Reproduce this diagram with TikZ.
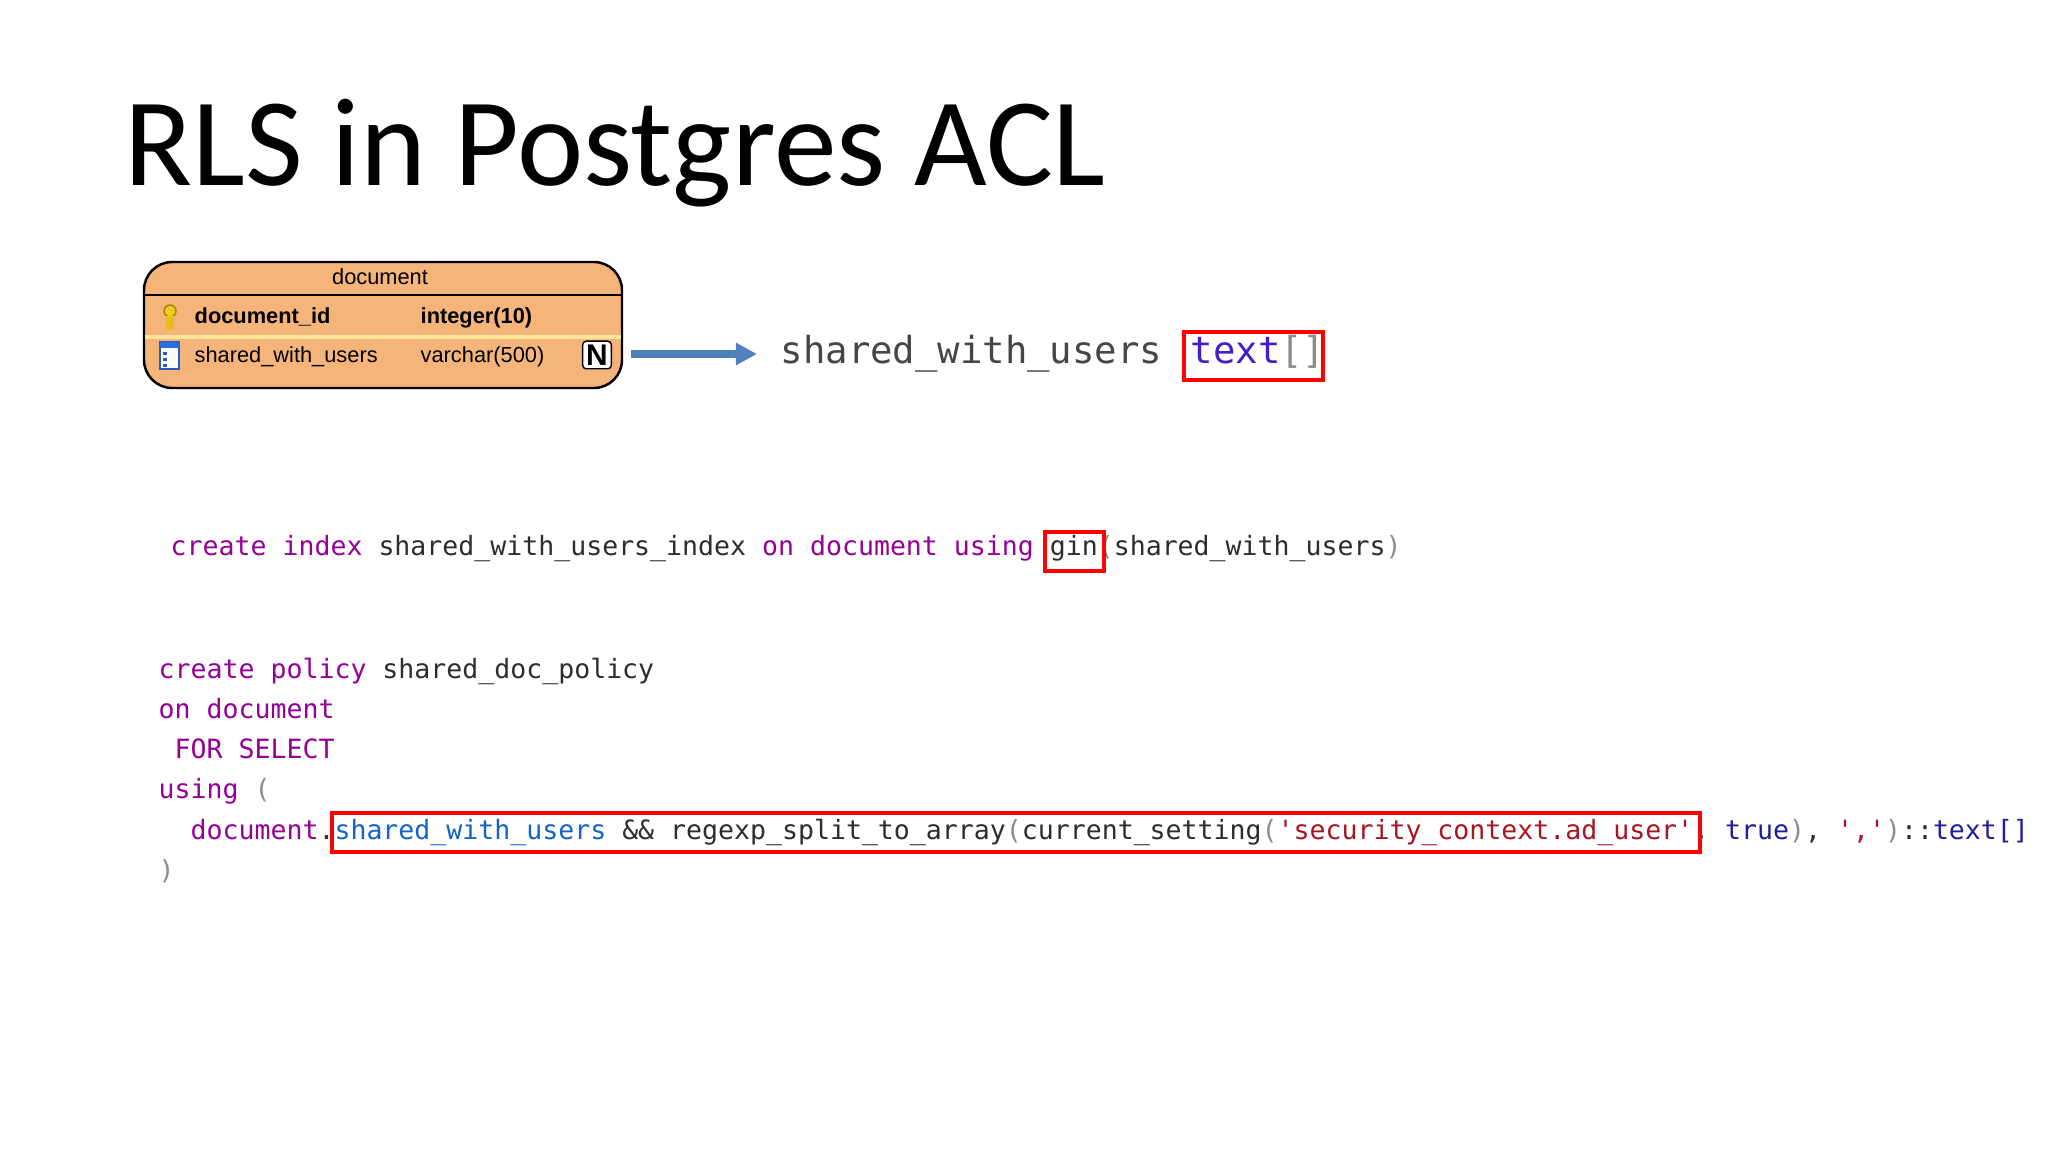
\documentclass[tikz,border=0pt]{standalone}
\usepackage{fontspec}
\setmainfont{Carlito}
\newfontfamily\tabfont{Liberation Sans}
\newfontfamily\codefont{DejaVu Sans Mono}
\usetikzlibrary{arrows.meta}
\definecolor{kw}{RGB}{150,0,150}
\definecolor{idc}{RGB}{45,45,45}
\definecolor{pc}{RGB}{140,140,140}
\definecolor{bl}{RGB}{20,100,200}
\definecolor{dbl}{RGB}{30,30,160}
\definecolor{str}{RGB}{170,20,30}
\definecolor{tbl}{RGB}{244,180,122}
\definecolor{arr}{RGB}{79,129,189}
\definecolor{sepl}{RGB}{255,230,150}
\definecolor{keyf}{RGB}{240,200,40}
\definecolor{keyd}{RGB}{170,130,0}
\definecolor{keys}{RGB}{230,190,30}
\definecolor{colb}{RGB}{40,90,200}
\definecolor{colt}{RGB}{40,110,220}
\definecolor{gtx}{RGB}{70,70,70}
\definecolor{txc}{RGB}{70,30,200}
\begin{document}
\begin{tikzpicture}[x=0.01cm,y=-0.01cm,
  code/.style={anchor=base west,inner sep=0,font=\codefont\fontsize{7.55pt}{9pt}\selectfont,text=idc},
  tab/.style={anchor=base west,inner sep=0,font=\tabfont\fontsize{6.2pt}{8pt}\selectfont},
  redbox/.style={draw=red,line width=1.2pt}]
\useasboundingbox[fill=white] (0,0) rectangle (2048,1152);
\node[anchor=base west,inner sep=0,font=\fontsize{35.7pt}{42pt}\selectfont] (title) at (124,186) {RLS in Postgres ACL};
% table
\draw[fill=tbl,rounded corners=8pt,line width=0.7pt] (144,262) rectangle (622,388);
\draw[line width=0.7pt] (144,295) -- (622,295);
\draw[draw=sepl,line width=1.2pt] (145,337) -- (621,337);
\node[tab,anchor=base] (thead) at (380,285) {document};
\node[tab,font=\tabfont\bfseries\fontsize{6.2pt}{8pt}\selectfont] (c1) at (194,324) {document\_id};
\node[tab,font=\tabfont\bfseries\fontsize{6.2pt}{8pt}\selectfont] (t1) at (420,324) {integer(10)};
\node[tab] (c2) at (194,363) {shared\_with\_users};
\node[tab] (t2) at (420,363) {varchar(500)};
% key icon
\draw[fill=keyf,draw=keyd] (170,311) circle (6);
\draw[line width=2.5pt,draw=keys] (170,316) -- (170,330);
% column icon
\draw[fill=white,draw=colb,line width=0.8pt] (160,342) rectangle (179,369);
\fill[colt] (160,342) rectangle (179,348);
\foreach \yy in {352,358,364} \fill[colb] (163,\yy) rectangle (167,\yy+3);
% N icon
\node[draw,fill=white,inner sep=1pt,rounded corners=1pt,font=\tabfont\bfseries\fontsize{8.5pt}{10pt}\selectfont] (nic) at (597,355) {N};
% arrow
\coordinate (as) at (631,354);
\coordinate (ae) at (757,354);
\node[anchor=base west,inner sep=0,font=\codefont\fontsize{10.6pt}{12pt}\selectfont,text=gtx] (swu) at (780,364) {shared\_with\_users};
\draw[arr,line width=2pt,-{Triangle[length=6pt,width=6pt]}] (as) -- (ae);
\node[anchor=base west,inner sep=0,font=\codefont\fontsize{10.6pt}{12pt}\selectfont] (ta) at (1190,364) {\textcolor{txc}{text}\textcolor{pc}{[]}};
\draw[redbox] (1184,332) rectangle (1323,380);
% code
\node[code] (ci) at (170,556) {\textcolor{kw}{create index} shared\_with\_users\_index \textcolor{kw}{on document using} gin\textcolor{pc}{(}shared\_with\_users\textcolor{pc}{)}};
\draw[redbox] (1045,532) rectangle (1104,571);
\node[code] (l1) at (158,678) {\textcolor{kw}{create policy} shared\_doc\_policy};
\node[code] (l2) at (158,718) {\textcolor{kw}{on document}};
\node[code] (l3) at (158,758) {\textcolor{kw}{\ FOR SELECT}};
\node[code] (l4) at (158,798) {\textcolor{kw}{using} \textcolor{pc}{(}};
\node[code] (l5) at (158,839) {\ \ \textcolor{kw}{document}.\textcolor{bl}{shared\_with\_users} \&\& regexp\_split\_to\_array\textcolor{pc}{(}current\_setting\textcolor{pc}{(}\textcolor{str}{'security\_context.ad\_user'}, \textcolor{dbl}{true}\textcolor{pc}{)}, \textcolor{str}{','}\textcolor{pc}{)}::\textcolor{dbl}{text[]}};
\node[code] (l6) at (158,879) {\textcolor{pc}{)}};
\draw[redbox] (332,813) rectangle (1700,852);
\end{tikzpicture}
\end{document}
